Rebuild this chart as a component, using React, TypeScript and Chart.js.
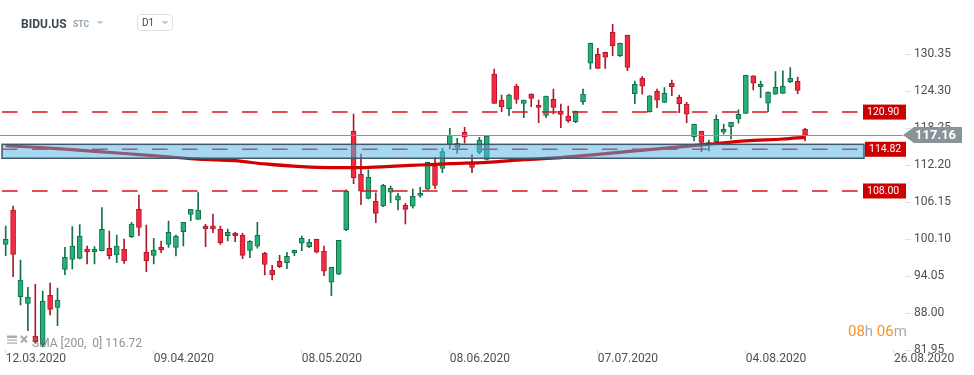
import React, { useEffect, useRef } from 'react';
import { Chart, registerables } from 'chart.js';

Chart.register(...registerables);

// ---- data ----
const openP = [
  99.28, 104.89, 90.72, 89.63, 84.29, 82.93, 90.94, 88.98, 95.19, 96.83,
  96.99, 98.51, 98.08, 98.24, 98.62, 97.53, 98.46, 100.53, 105.0, 97.97,
  97.48, 98.79, 99.28, 98.79, 101.35, 104.18, 103.36, 102.27, 102.3, 101.73,
  100.69, 101.08, 100.75, 98.3, 98.96, 97.81, 95.03, 96.5, 96.29, 97.92,
  99.45, 98.9, 100.1, 98.14, 93.07, 94.38, 101.68, 117.76, 110.73, 106.8,
  106.31, 105.55, 107.79, 106.48, 105.66, 105.5, 107.29, 108.28, 112.09, 111.71,
  115.63, 115.14, 117.6, 112.58, 114.32, 113.17, 127.13, 122.88, 121.46, 125.16,
  122.33, 123.86, 122.06, 120.37, 122.98, 121.08, 120.26, 119.33, 122.6, 128.88,
  130.35, 130.68, 133.95, 130.13, 133.46, 123.92, 126.43, 120.98, 124.3, 122.5,
  125.61, 123.32, 122.17, 116.89, 117.76, 115.69, 116.07, 117.6, 118.52, 119.78,
  120.7, 126.81, 125.06, 122.34, 123.81, 123.97, 125.88, 125.94, 118.09,
];
const highP = [
  102.27, 105.54, 96.72, 92.25, 92.74, 91.65, 92.96, 92.14, 98.79, 102.17,
  102.49, 99.0, 98.9, 105.27, 101.46, 100.8, 100.15, 102.87, 107.34, 102.44,
  100.26, 99.82, 103.09, 100.8, 102.87, 105.0, 107.72, 102.55, 104.24, 102.27,
  101.78, 101.24, 101.08, 99.9, 102.88, 97.98, 95.85, 97.49, 97.98, 98.35,
  100.64, 100.1, 100.15, 99.01, 95.52, 99.94, 108.17, 120.59, 114.05, 111.44,
  107.68, 109.09, 108.82, 107.62, 105.99, 108.33, 108.6, 112.69, 113.51, 114.98,
  118.25, 116.61, 118.41, 113.94, 116.77, 116.99, 127.94, 123.7, 123.86, 125.49,
  122.88, 123.9, 122.88, 123.53, 124.67, 122.22, 121.9, 121.08, 124.67, 132.2,
  131.33, 130.7, 135.25, 132.2, 133.5, 125.99, 126.7, 123.6, 124.68, 124.9,
  126.15, 123.7, 122.5, 118.95, 117.8, 116.34, 120.43, 118.96, 119.23, 121.25,
  126.95, 126.85, 125.99, 124.2, 127.52, 127.63, 128.17, 126.64, 118.25,
];
const lowP = [
  97.42, 94.0, 89.36, 85.16, 83.1, 82.5, 87.72, 85.98, 94.32, 95.24,
  96.9, 96.06, 96.06, 98.2, 96.88, 96.28, 96.17, 100.37, 100.69, 94.81,
  96.06, 97.92, 98.79, 97.37, 99.0, 103.15, 103.36, 98.9, 101.18, 99.28,
  99.82, 99.71, 96.93, 97.1, 98.63, 94.27, 93.45, 95.47, 95.3, 97.43,
  98.25, 98.74, 97.87, 94.16, 90.89, 94.3, 101.52, 109.2, 105.77, 106.7,
  102.83, 105.44, 106.1, 104.9, 102.61, 105.17, 106.97, 108.17, 108.39, 111.0,
  114.87, 114.16, 115.8, 111.0, 114.05, 113.07, 122.3, 120.97, 120.31, 122.33,
  119.99, 121.79, 119.17, 119.99, 120.59, 118.35, 119.22, 119.17, 122.17, 127.9,
  128.0, 128.06, 130.13, 129.97, 127.68, 122.28, 123.81, 120.87, 121.63, 122.45,
  123.59, 120.81, 119.18, 116.18, 114.44, 114.55, 116.0, 117.27, 116.51, 119.07,
  120.65, 124.52, 123.27, 120.98, 123.8, 123.95, 125.72, 123.92, 116.18,
];
const closeP = [
  100.09, 97.64, 93.45, 90.61, 83.36, 90.01, 88.65, 90.18, 97.15, 99.0,
  100.64, 98.08, 98.46, 101.73, 97.42, 99.0, 96.61, 102.6, 102.06, 96.61,
  98.35, 98.35, 101.24, 100.64, 102.87, 105.0, 104.89, 101.84, 101.8, 99.55,
  101.24, 100.69, 97.48, 99.77, 100.75, 96.01, 94.32, 95.63, 97.32, 98.3,
  100.26, 99.61, 97.98, 94.87, 95.52, 99.94, 107.95, 110.18, 107.95, 110.24,
  104.35, 108.93, 108.44, 107.19, 105.0, 107.13, 107.62, 112.69, 108.93, 114.43,
  117.05, 115.8, 116.78, 111.87, 116.34, 116.99, 122.33, 121.79, 123.7, 122.98,
  122.88, 123.15, 121.68, 123.53, 121.68, 120.53, 119.5, 121.08, 123.86, 132.15,
  128.06, 129.86, 131.77, 132.15, 128.22, 125.45, 125.12, 123.54, 122.83, 123.97,
  125.06, 122.28, 120.54, 118.91, 115.96, 115.9, 119.72, 118.09, 119.23, 120.54,
  126.92, 125.61, 125.45, 124.14, 124.96, 125.12, 126.43, 124.46, 117.16,
];

const smaIndex = [0, 4, 8, 12, 17, 22, 26, 31, 35, 40, 44, 48, 52, 56, 60, 65, 70, 75, 80, 85, 90, 95, 100, 105, 108];
const smaValues = [
  115.4, 115.15, 114.85, 114.48, 114.05, 113.6, 113.2, 112.95, 112.42, 111.97,
  111.82, 111.82, 112.03, 112.25, 112.47, 112.68, 113.12, 113.45, 114.0, 114.55,
  115.1, 115.65, 116.2, 116.5, 116.78,
];

const xTickIndex = [0, 20, 40, 60, 80, 100, 120];
const xTickLabels = ['12.03.2020', '09.04.2020', '08.05.2020', '08.06.2020', '07.07.2020', '04.08.2020', '26.08.2020'];
const yTickValues = [130.35, 124.3, 118.25, 112.2, 106.15, 100.1, 94.05, 88.0, 81.95];

const levelValues = [120.9, 114.82, 108.0];
const zoneLow = 113.35;
const zoneHigh = 115.63;
const lastPrice = 117.16;
const smaLast = 116.72;

const symbol = 'BIDU.US';
const symbolType = 'STC';
const interval = 'D1';
const countdown = ['08', 'h ', '06', 'm'];

const GREEN = '#25b077';
const GREEN_DARK = '#13704a';
const RED = '#f52a40';
const RED_DARK = '#b0182b';
const FONT = 'Roboto, "Noto Sans", sans-serif';

function fmt(v: number) {
  return v.toFixed(2);
}

function noPad(s: any) {
  s.paddingTop = 0;
  s.paddingBottom = 0;
  s.paddingLeft = 0;
  s.paddingRight = 0;
}

const overlayPlugin = {
  id: 'overlayPlugin',
  afterDatasetsDraw(chart: any) {
    const { ctx, chartArea, scales } = chart;
    const y = scales.y;
    const L = chartArea.left;
    const R = chartArea.right;
    ctx.save();
    // dashed support/resistance levels
    ctx.strokeStyle = '#d7141c';
    ctx.lineWidth = 1.5;
    ctx.setLineDash([15.6, 14.4]);
    levelValues.forEach((v) => {
      const py = y.getPixelForValue(v);
      ctx.beginPath();
      ctx.moveTo(L, py);
      ctx.lineTo(R - 47, py);
      ctx.stroke();
    });
    ctx.setLineDash([]);
    // current price line
    const pp = Math.round(y.getPixelForValue(lastPrice)) + 0.5;
    ctx.strokeStyle = '#8b9499';
    ctx.lineWidth = 1;
    ctx.beginPath();
    ctx.moveTo(0, pp);
    ctx.lineTo(R - 2, pp);
    ctx.stroke();
    // zone band
    const top = y.getPixelForValue(zoneHigh);
    const bot = y.getPixelForValue(zoneLow);
    ctx.fillStyle = 'rgba(78,180,228,0.5)';
    ctx.fillRect(L, top, R - 41 - L, bot - top);
    ctx.strokeStyle = '#43586a';
    ctx.lineWidth = 1.5;
    ctx.strokeRect(L, top, R - 41 - L, bot - top);
    ctx.restore();
  },
  afterDraw(chart: any) {
    const { ctx, chartArea, scales } = chart;
    const y = scales.y;
    const R = chartArea.right;
    ctx.save();
    // level labels
    ctx.font = `10.5px ${FONT}`;
    ctx.textBaseline = 'middle';
    ctx.textAlign = 'left';
    levelValues.forEach((v, i) => {
      const py = y.getPixelForValue(v);
      const x0 = i === 1 ? R - 40 : R - 42;
      ctx.fillStyle = '#cc0000';
      ctx.fillRect(x0, py - 7.5, R + 1 - x0, 15);
      ctx.fillStyle = '#ffffff';
      ctx.fillText(fmt(v), x0 + 4, py + 0.5);
    });
    // current price arrow label
    const pp = y.getPixelForValue(lastPrice);
    ctx.fillStyle = '#899398';
    ctx.beginPath();
    ctx.moveTo(R - 2, pp);
    ctx.lineTo(R + 9, pp - 8);
    ctx.lineTo(R + 57, pp - 8);
    ctx.lineTo(R + 57, pp + 8);
    ctx.lineTo(R + 9, pp + 8);
    ctx.closePath();
    ctx.fill();
    ctx.fillStyle = '#ffffff';
    ctx.font = `bold 13px ${FONT}`;
    ctx.fillText(fmt(lastPrice), R + 10, pp + 1);

    // header
    ctx.textBaseline = 'alphabetic';
    ctx.fillStyle = '#3b4850';
    ctx.font = `bold 12px ${FONT}`;
    ctx.fillText(symbol, 21, 27.5);
    ctx.fillStyle = '#94a3ad';
    ctx.font = `bold 8.5px ${FONT}`;
    ctx.fillText(symbolType, 73, 26.5);
    ctx.fillStyle = '#c3cad0';
    ctx.beginPath();
    ctx.moveTo(96.5, 21);
    ctx.lineTo(103.5, 21);
    ctx.lineTo(100, 24.5);
    ctx.closePath();
    ctx.fill();
    ctx.strokeStyle = '#dde1e4';
    ctx.lineWidth = 1;
    ctx.beginPath();
    (ctx as any).roundRect(137.5, 14.5, 35, 16, 3);
    ctx.stroke();
    ctx.fillStyle = '#37474f';
    ctx.font = `10px ${FONT}`;
    ctx.fillText(interval, 142, 26);
    ctx.fillStyle = '#c3cad0';
    ctx.beginPath();
    ctx.moveTo(161.5, 21);
    ctx.lineTo(168.5, 21);
    ctx.lineTo(165, 24.5);
    ctx.closePath();
    ctx.fill();

    // SMA legend (bottom-left)
    ctx.fillStyle = 'rgba(150,150,150,0.8)';
    ctx.fillRect(7, 335.5, 10, 2.5);
    ctx.fillRect(7, 339.5, 10, 1.2);
    ctx.fillRect(7, 342.5, 10, 1.2);
    ctx.strokeStyle = 'rgba(150,150,150,0.8)';
    ctx.lineWidth = 2;
    ctx.beginPath();
    ctx.moveTo(21, 336);
    ctx.lineTo(27, 342.5);
    ctx.moveTo(27, 336);
    ctx.lineTo(21, 342.5);
    ctx.stroke();
    ctx.fillStyle = 'rgba(110,110,110,0.75)';
    ctx.font = `12px ${FONT}`;
    ctx.fillText(`SMA [200,  0] ${fmt(smaLast)}`, 32, 347);

    // countdown
    ctx.font = `15px ${FONT}`;
    let cx = R - 57;
    countdown.forEach((s, i) => {
      ctx.fillStyle = i % 2 === 0 ? '#f7931e' : '#a9adb0';
      ctx.fillText(s, cx, 335.5);
      cx += ctx.measureText(s).width;
    });
    ctx.restore();
  },
};

export default function App() {
  const ref = useRef<HTMLCanvasElement | null>(null);

  useEffect(() => {
    if (!ref.current) return;
    const n = openP.length;
    const idx = Array.from({ length: n }, (_, i) => i);
    const up = idx.map((i) => closeP[i] >= openP[i]);
    const bodies = idx.map((i) => ({ x: i, y: [openP[i], closeP[i]] }));
    const wicks = idx.map((i) => ({ x: i, y: [lowP[i], highP[i]] }));
    const sma = smaIndex.map((i, k) => ({ x: i, y: smaValues[k] }));

    const yMax = 130.35 + 54.3 / 6.116;
    const yMin = 81.95;

    const chart = new Chart(ref.current, {
      type: 'bar',
      data: {
        datasets: [
          {
            type: 'line',
            data: sma,
            borderColor: '#d20000',
            borderWidth: 3.2,
            pointRadius: 0,
            cubicInterpolationMode: 'monotone',
            order: 0,
          } as any,
          {
            data: bodies as any,
            backgroundColor: up.map((u) => (u ? GREEN : RED)),
            borderColor: up.map((u) => (u ? GREEN_DARK : RED_DARK)),
            borderWidth: 1,
            borderSkipped: false,
            barThickness: 5,
            grouped: false,
            order: 1,
          } as any,
          {
            data: wicks as any,
            backgroundColor: up.map((u) => (u ? GREEN_DARK : RED_DARK)),
            borderWidth: 0,
            barThickness: 1,
            grouped: false,
            order: 2,
          } as any,
        ],
      },
      options: {
        animation: false,
        responsive: false,
        maintainAspectRatio: false,
        layout: { padding: { left: 2, right: 0, top: 0, bottom: 0 } },
        plugins: { legend: { display: false }, tooltip: { enabled: false } },
        font: { family: FONT } as any,
        scales: {
          x: {
            type: 'linear',
            min: -0.5,
            max: 121.5,
            offset: false,
            grid: { drawOnChartArea: false, drawTicks: true, tickLength: 3, color: '#d3d8dc', offset: false },
            border: { display: false },
            afterBuildTicks: (s: any) => {
              s.ticks = xTickIndex.map((v) => ({ value: v }));
            },
            afterFit: (s: any) => {
              s.height = 24.7;
              noPad(s);
            },
            ticks: {
              align: 'start',
              padding: -2,
              maxRotation: 0,
              autoSkip: false,
              color: '#4a5157',
              font: { family: FONT, size: 12 },
              callback: (v: any) => {
                const k = xTickIndex.indexOf(Number(v));
                return k >= 0 ? xTickLabels[k] : '';
              },
            },
          },
          y: {
            type: 'linear',
            position: 'right',
            min: yMin,
            max: yMax,
            beginAtZero: false,
            grid: { drawOnChartArea: false, drawTicks: true, tickLength: 6, color: '#dde1e4' },
            border: { display: false },
            afterBuildTicks: (s: any) => {
              s.ticks = yTickValues.map((v) => ({ value: v }));
            },
            afterFit: (s: any) => {
              s.width = 69;
              noPad(s);
            },
            ticks: {
              padding: 3,
              color: '#4a5157',
              font: { family: FONT, size: 12 },
              callback: (v: any) => Number(v).toFixed(2),
            },
          },
        },
      } as any,
      plugins: [overlayPlugin],
    });
    return () => chart.destroy();
  }, []);

  return (
    <div style={{ position: 'fixed', left: 0, top: 0, width: 974, height: 375, background: '#fff' }}>
      <canvas ref={ref} width={974} height={375} style={{ display: 'block', width: 974, height: 375 }} />
    </div>
  );
}
